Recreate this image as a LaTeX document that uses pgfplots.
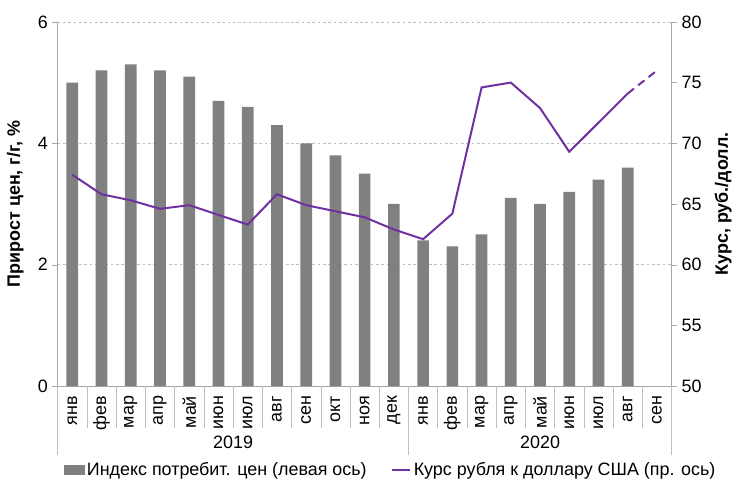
\documentclass[border=0pt]{standalone}
\usepackage{fontspec}
\setmainfont{Liberation Sans}
\usepackage{pgfplots}
\pgfplotsset{compat=1.18}
\definecolor{barc}{HTML}{808080}
\definecolor{linec}{HTML}{7030A0}
\definecolor{gridc}{HTML}{BFBFBF}
\definecolor{axc}{HTML}{A6A6A6}
\newcommand{\fs}{\fontsize{13.5}{16}\selectfont}
\begin{document}
\begin{tikzpicture}
\pgfplotsset{
  base/.style={
    width=462.75pt, height=274.5pt, scale only axis,
    xmin=-0.5, xmax=20.5,
    /pgf/number format/assume math mode=true,
    tick label style={font=\fs},
    label style={font=\fs\bfseries},
    axis line style={axc},
    major tick style={axc},
    tick align=outside,
    major tick length=4pt,
  }
}
% CPI bars, left axis
\begin{axis}[base, ybar, bar width=8.8pt,
    ymin=0, ymax=6, ytick={0,2,4,6},
    axis x line*=bottom, axis y line*=left,
    ymajorgrids, grid style={gridc, dash pattern=on 2pt off 2pt},
    xtick={0,...,20},
    xticklabels={янв,фев,мар,апр,май,июн,июл,авг,сен,окт,ноя,дек,янв,фев,мар,апр,май,июн,июл,авг,сен},
    xticklabel style={rotate=90, anchor=east},
    x tick style={draw=none},
    ylabel={Прирост цен, г/г, \%},
    ylabel style={at={(axis description cs:-0.069,0.5)}, anchor=center},
    clip=false]
\addplot[fill=barc, draw=none] coordinates {
  (0,5.0) (1,5.2) (2,5.3) (3,5.2) (4,5.1) (5,4.7) (6,4.6) (7,4.3)
  (8,4.0) (9,3.8) (10,3.5) (11,3.0) (12,2.4) (13,2.3) (14,2.5)
  (15,3.1) (16,3.0) (17,3.2) (18,3.4) (19,3.6)
};
\pgfplotsinvokeforeach{0,...,19}{
  \draw[gridc] (axis cs:#1+0.5,0) -- ([yshift=-31.5pt]axis cs:#1+0.5,0);
}
\draw[gridc] (axis cs:-0.5,0) -- ([yshift=-51.75pt]axis cs:-0.5,0);
\draw[gridc] (axis cs:11.5,0) -- ([yshift=-51.75pt]axis cs:11.5,0);
\draw[gridc] (axis cs:20.5,0) -- ([yshift=-51.75pt]axis cs:20.5,0);
\node[font=\fs] at (axis cs:5.5,0) [yshift=-42.75pt] {2019};
\node[font=\fs] at (axis cs:16,0) [yshift=-42.75pt] {2020};
\end{axis}
% exchange rate, right axis
\begin{axis}[base,
    ymin=50, ymax=80, ytick={50,55,...,80},
    axis y line*=right, axis x line=none,
    ylabel={Курс, руб./долл.},
    ylabel style={at={(axis description cs:1.084,0.5)}, anchor=center},
    legend columns=2,
    legend style={draw=none, fill=none, font=\fs,
      at={(axis description cs:0.003,-0.23)}, anchor=west,
      /tikz/every even column/.append style={column sep=16pt}},
    legend cell align=left]
\coordinate (bl) at (rel axis cs:0,0);
\coordinate (tr) at (rel axis cs:1,1);
\addlegendimage{legend image code/.code={\fill[barc] (0pt,-3.5pt) rectangle (15pt,3.5pt);}}
\addlegendentry{Индекс потребит. цен (левая ось)}
\addplot[linec, line width=1.5pt, legend image code/.code={\draw[linec, line width=1.5pt] (0pt,0pt) -- (14pt,0pt);}] coordinates {
  (0,67.4) (1,65.8) (2,65.3) (3,64.6) (4,64.9) (5,64.1) (6,63.3)
  (7,65.8) (8,64.9) (9,64.4) (10,63.9) (11,62.9) (12,62.1) (13,64.2)
  (14,74.6) (15,75.0) (16,72.9) (17,69.3) (18,71.7) (19,74.1)
};
\addlegendentry{Курс рубля к доллару США (пр. ось)}
\addplot[linec, line width=1.5pt, dash pattern=on 6pt off 4pt, forget plot] coordinates {
  (19,74.1) (20,76.0)
};
\end{axis}
\path (bl) ++(-43.5pt,-73.5pt);
\path (tr) ++(45.75pt,16.5pt);
\end{tikzpicture}
\end{document}
